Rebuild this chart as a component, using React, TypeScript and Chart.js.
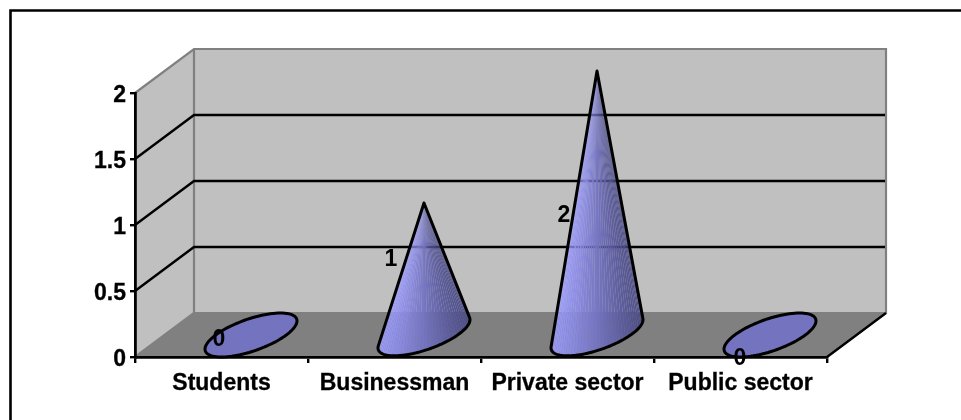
import React, { useEffect, useRef } from "react";
import { Chart, registerables, BarController, BarElement } from "chart.js";

const categories = ["Students", "Businessman", "Private sector", "Public sector"];
const respondents = [0, 1, 2, 0];
const valueTicks = [0, 0.5, 1, 1.5, 2];

// 3-D projection and label tuning (layout, not data)
const DEPTH_X = 59;
const DEPTH_Y = 44;
const TICK_LABEL_DROP = 2.5;
const LABEL_NUDGE = [
  { dx: -2.5, y: 339.5 },
  { dx: -3.5, y: 259.5 },
  { dx: -3.5, y: 215.5 },
  { dx: -0.5, y: 358.5 },
];
const FONT = "'Liberation Sans', Arial, sans-serif";

class ConeElement extends BarElement {
  static id = "cone";
  draw(ctx: CanvasRenderingContext2D) {
    const { x, y, base, width } = this as any;
    const ux = width / 2;
    const vx = DEPTH_X / 2;
    const vy = -DEPTH_Y / 2;
    const cx = x + vx;
    const cy = base + vy;
    const ax = x + vx;
    const ay = y + vy;
    const at = (t: number): [number, number] => [
      cx + Math.cos(t) * ux + Math.sin(t) * vx,
      cy + Math.sin(t) * vy,
    ];
    // apex in unit-circle space of the base ellipse
    const sinA = (ay - cy) / vy;
    const cosA = (ax - cx - sinA * vx) / ux;
    const dist = Math.hypot(cosA, sinA);

    ctx.save();
    ctx.lineWidth = 3;
    ctx.lineJoin = "round";
    ctx.strokeStyle = "#000";
    if (dist <= 1) {
      ctx.beginPath();
      for (let i = 0; i <= 96; i++) {
        const [px, py] = at((i / 96) * Math.PI * 2);
        if (i === 0) ctx.moveTo(px, py);
        else ctx.lineTo(px, py);
      }
      ctx.closePath();
      ctx.fillStyle = "#7373BF";
      ctx.fill();
      ctx.stroke();
    } else {
      const theta = Math.atan2(sinA, cosA);
      const spread = Math.acos(1 / dist);
      const t0 = theta + spread;
      const t1 = theta - spread + Math.PI * 2;
      const halfW = Math.hypot(ux, vx);
      const steps = 44;
      // shaded facets running from the apex to the base rim
      for (let i = 0; i < steps; i++) {
        const a = at(t0 + ((t1 - t0) * i) / steps);
        const b = at(t0 + ((t1 - t0) * (i + 1)) / steps);
        const f = Math.min(1, Math.max(0, ((a[0] + b[0]) / 2 - (cx - halfW)) / (2 * halfW)));
        const mix = (p: number, q: number) => Math.round(p + (q - p) * f);
        ctx.fillStyle = `rgba(${mix(156, 74)},${mix(156, 74)},${mix(255, 132)},0.96)`;
        ctx.beginPath();
        ctx.moveTo(ax, ay);
        ctx.lineTo(a[0], a[1]);
        ctx.lineTo(b[0], b[1]);
        ctx.closePath();
        ctx.fill();
      }
      ctx.beginPath();
      ctx.moveTo(ax, ay);
      for (let i = 0; i <= 96; i++) {
        const [px, py] = at(t0 + ((t1 - t0) * i) / 96);
        ctx.lineTo(px, py);
      }
      ctx.closePath();
      ctx.stroke();
    }
    ctx.restore();
  }
}

class ConeController extends BarController {
  static id = "cone";
  static defaults = { ...BarController.defaults, dataElementType: "cone" };
}

const box3d = {
  id: "box3d",
  beforeDraw(chart: any) {
    const { ctx, scales } = chart;
    const { x: xs, y: ys } = scales;
    const L = xs.left;
    const R = xs.right;
    const B = ys.bottom;
    const T = ys.top;
    const bl = L + DEPTH_X;
    const br = R + DEPTH_X;
    const bb = B - DEPTH_Y;
    const bt = T - DEPTH_Y;
    ctx.save();

    // outer frame: only the top and left edges fall inside the picture
    ctx.strokeStyle = "#000";
    ctx.lineWidth = 2.6;
    ctx.beginPath();
    ctx.moveTo(10.5, chart.height);
    ctx.lineTo(10.5, 10.5);
    ctx.lineTo(chart.width, 10.5);
    ctx.stroke();

    ctx.fillStyle = "#C0C0C0";
    ctx.fillRect(bl, bt, br - bl, bb - bt);
    ctx.beginPath();
    ctx.moveTo(L, T);
    ctx.lineTo(bl, bt);
    ctx.lineTo(bl, bb);
    ctx.lineTo(L, B);
    ctx.closePath();
    ctx.fill();

    ctx.fillStyle = "#808080";
    ctx.beginPath();
    ctx.moveTo(L, B);
    ctx.lineTo(R, B);
    ctx.lineTo(br, bb);
    ctx.lineTo(bl, bb);
    ctx.closePath();
    ctx.fill();

    // grey wall edges
    ctx.strokeStyle = "#808080";
    ctx.lineWidth = 2.2;
    ctx.beginPath();
    ctx.moveTo(L, T);
    ctx.lineTo(bl, bt);
    ctx.lineTo(br, bt);
    ctx.lineTo(br, bb);
    ctx.lineTo(bl, bb);
    ctx.moveTo(bl, bt);
    ctx.lineTo(bl, bb);
    ctx.lineTo(L, B);
    ctx.stroke();

    // gridlines wrapping side and back walls
    ctx.strokeStyle = "#000";
    ctx.lineWidth = 2.4;
    ctx.beginPath();
    valueTicks
      .filter((v) => v > 0 && v < valueTicks[valueTicks.length - 1])
      .forEach((v) => {
        const py = ys.getPixelForValue(v);
        ctx.moveTo(L, py);
        ctx.lineTo(bl, py - DEPTH_Y);
        ctx.lineTo(br - 1, py - DEPTH_Y);
      });
    // floor's front right edge
    ctx.moveTo(R, B);
    ctx.lineTo(br, bb);
    ctx.stroke();
    ctx.restore();
  },
  afterDatasetsDraw(chart: any) {
    const { ctx } = chart;
    const els = chart.getDatasetMeta(0).data;
    ctx.save();
    ctx.font = `bold 23px ${FONT}`;
    ctx.fillStyle = "#000";
    ctx.textAlign = "center";
    ctx.textBaseline = "middle";
    els.forEach((el: any, i: number) => {
      const n = LABEL_NUDGE[i];
      ctx.fillText(String(respondents[i]), el.x + n.dx, n.y);
    });
    ctx.restore();
  },
};

Chart.register(...registerables, ConeElement, ConeController);

export default function App() {
  const ref = useRef<HTMLCanvasElement>(null);
  useEffect(() => {
    const chart = new Chart(ref.current!, {
      type: "cone" as any,
      data: {
        labels: categories,
        datasets: [{ label: "Respondents", data: respondents, clip: false }],
      },
      options: {
        animation: false,
        responsive: false,
        layout: { padding: { left: 0, right: 134, top: 93, bottom: 0 } },
        plugins: { legend: { display: false }, tooltip: { enabled: false } },
        datasets: { cone: { barPercentage: 0.408, categoryPercentage: 1 } } as any,
        scales: {
          x: {
            afterFit: (s: any) => {
              s.height = 63;
            },
            offset: true,
            border: { color: "#000", width: 2.8 },
            grid: {
              offset: true,
              drawOnChartArea: false,
              color: "#000",
              lineWidth: 2.4,
              tickLength: 6,
            },
            ticks: {
              color: "#000",
              padding: 7,
              maxRotation: 0,
              autoSkip: false,
              textStrokeColor: "#000",
              textStrokeWidth: 0.3,
              font: { family: FONT, size: 23, weight: "bold" },
            },
          },
          y: {
            min: 0,
            max: 2,
            afterFit: (s: any) => {
              s.width = 135;
              if (!s.__dropped) {
                s.__dropped = true;
                const compute = s._computeLabelItems;
                s._computeLabelItems = function (area: any) {
                  const items = compute.call(this, area);
                  items.forEach((it: any) => {
                    const [tx, ty] = it.options.translation;
                    it.options.translation = [tx, ty + TICK_LABEL_DROP];
                  });
                  return items;
                };
              }
            },
            afterBuildTicks: (s: any) => {
              s.ticks = valueTicks.map((value) => ({ value }));
            },
            border: { color: "#000", width: 2.8 },
            grid: {
              drawOnChartArea: false,
              color: "#000",
              lineWidth: 2.4,
              tickLength: 5,
            },
            ticks: {
              color: "#000",
              padding: 4,
              textStrokeColor: "#000",
              textStrokeWidth: 0.3,
              callback: (v: any) => String(v),
              font: { family: FONT, size: 23, weight: "bold" },
            },
          },
        },
      } as any,
      plugins: [box3d],
    });
    return () => chart.destroy();
  }, []);
  return (
    <canvas
      ref={ref}
      width={961}
      height={420}
      style={{ position: "fixed", left: 0, top: 0, display: "block", background: "#fff" }}
    />
  );
}
